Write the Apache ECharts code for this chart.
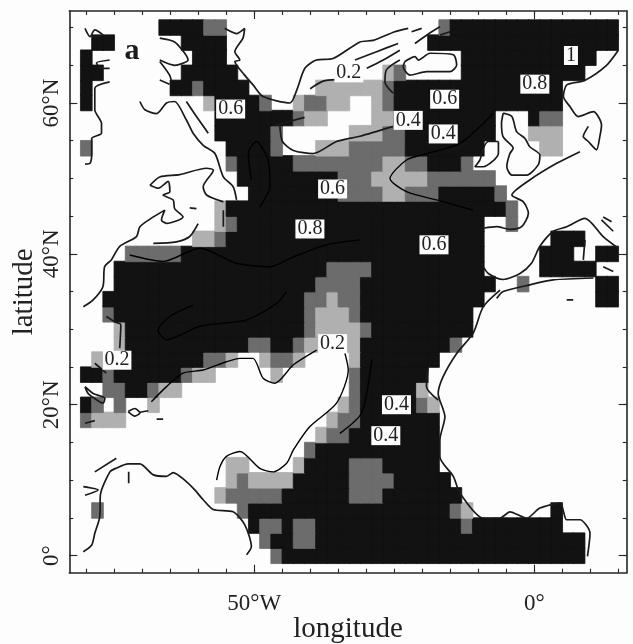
<!DOCTYPE html>
<html><head><meta charset="utf-8">
<style>html,body{margin:0;padding:0;background:#fdfdfd}#c{width:633px;height:644px}</style>
<script src="https://cdn.jsdelivr.net/npm/echarts@6/dist/echarts.min.js"></script>
</head><body><div id="c"></div>
<script>
const FONT = '"Liberation Serif","DejaVu Serif",serif';
const L = 1, D = 2, K = 3;
const levelColors = {1: '#b0b0b0', 2: '#6c6c6c', 3: '#121212'};
const lons = []; for (let v = -80; v <= 14; v += 2) lons.push(v);
const lats = []; for (let v = 0; v <= 70; v += 2) lats.push(v);

// each row: latitude -> runs of [fromLon, toLon, level]
const cellRuns = {
70: [[-66,-60,K],[-58,-56,D],[-16,-16,D],[-14,14,K]],
68: [[-78,-76,K],[-62,-56,K],[-18,14,K]],
66: [[-80,-80,K],[-60,-56,K],[-12,10,K]],
64: [[-80,-78,K],[-62,-54,K],[-26,-26,L],[-24,-24,D],[-12,8,K]],
62: [[-80,-80,K],[-64,-62,K],[-60,-60,D],[-58,-52,K],[-38,-28,L],[-26,-26,D],[-24,4,K]],
60: [[-80,-80,K],[-58,-58,L],[-56,-50,K],[-48,-48,D],[-42,-42,L],[-40,-38,D],[-36,-34,L],[-28,-28,L],[-26,-26,D],[-24,4,K]],
58: [[-56,-44,K],[-42,-42,D],[-40,-38,L],[-28,-26,L],[-24,-8,K],[0,0,K],[2,4,D]],
56: [[-56,-48,K],[-46,-46,D],[-32,-28,L],[-26,-24,D],[-22,-8,K],[0,4,L]],
54: [[-80,-80,D],[-54,-48,K],[-46,-46,D],[-38,-34,L],[-32,-24,D],[-22,-10,K],[2,4,L]],
52: [[-54,-54,D],[-52,-44,K],[-42,-28,D],[-26,-24,L],[-22,-20,D],[-18,-14,K],[-12,-12,D]],
50: [[-52,-36,K],[-34,-30,D],[-28,-20,L],[-18,-8,D]],
48: [[-50,-36,K],[-34,-28,D],[-26,-24,L],[-22,-18,D],[-16,-8,K],[-6,-6,D]],
46: [[-56,-56,L],[-54,-6,K],[-4,-4,D]],
44: [[-56,-56,L],[-54,-54,D],[-52,-10,K],[-4,-4,D]],
42: [[-60,-58,L],[-56,-56,D],[-54,-10,K],[4,8,K]],
40: [[-72,-64,D],[-62,-10,K],[2,6,K],[12,14,K]],
38: [[-74,-38,K],[-36,-30,D],[-28,-10,K],[2,10,K]],
36: [[-74,-40,K],[-38,-32,D],[-30,-8,K],[-2,-2,D],[12,14,K]],
34: [[-76,-42,K],[-40,-38,D],[-36,-36,L],[-34,-32,D],[-30,-10,K],[12,14,K]],
32: [[-76,-76,D],[-74,-42,K],[-40,-40,D],[-38,-34,L],[-32,-32,D],[-30,-12,K]],
30: [[-74,-74,L],[-72,-42,K],[-40,-40,D],[-38,-32,L],[-30,-30,D],[-28,-12,K]],
28: [[-74,-74,L],[-72,-52,K],[-50,-48,D],[-46,-44,K],[-42,-42,D],[-40,-32,L],[-30,-16,K],[-14,-14,D]],
26: [[-78,-78,L],[-76,-60,K],[-58,-56,D],[-54,-54,L],[-48,-48,L],[-46,-44,D],[-42,-42,L],[-32,-32,L],[-30,-18,K]],
24: [[-80,-78,K],[-76,-76,D],[-74,-64,K],[-62,-62,D],[-60,-58,L],[-46,-46,L],[-32,-32,D],[-30,-20,K]],
22: [[-76,-74,D],[-72,-70,K],[-68,-68,D],[-66,-64,L],[-32,-32,D],[-30,-22,K],[-20,-20,L]],
20: [[-80,-80,K],[-78,-78,D],[-74,-74,D],[-68,-68,L],[-34,-34,L],[-32,-32,D],[-30,-22,K],[-20,-20,D],[-18,-18,L]],
18: [[-80,-80,D],[-78,-74,L],[-36,-36,L],[-34,-32,D],[-30,-18,K]],
16: [[-38,-38,L],[-36,-34,D],[-32,-18,K]],
14: [[-40,-40,D],[-38,-18,K]],
12: [[-54,-52,L],[-42,-42,L],[-40,-34,K],[-32,-28,D],[-26,-18,K]],
10: [[-54,-54,L],[-52,-52,D],[-50,-44,L],[-42,-34,K],[-32,-26,D],[-24,-16,K]],
8: [[-56,-56,L],[-54,-46,D],[-44,-34,K],[-32,-28,D],[-26,-14,K]],
6: [[-78,-78,D],[-52,-52,D],[-50,-16,K],[-14,-14,D],[-12,-12,L],[4,4,K]],
4: [[-50,-50,K],[-48,-46,D],[-44,-44,K],[-42,-40,D],[-38,-14,K],[-12,-12,D],[-10,4,K]],
2: [[-48,-48,D],[-46,-44,K],[-42,-40,D],[-38,8,K]],
0: [[-46,-46,D],[-44,8,K]]
};

const coastlines = [
[[-80.2,69.9],[-79.3,68.8],[-78.45,69.7],[-77,69],[-78.75,68.8]],
[[-75.8,62.8],[-78.45,61.95],[-78.45,59.1],[-77.25,57.3],[-77.25,56],[-79,55.3],[-79,53.3],[-79.3,52],[-80.2,51.9]],
[[-75.8,65.7],[-78.15,65.3],[-77.26,64.6],[-75.8,64.6]],
[[-66.85,68.6],[-64.2,68.1],[-62.4,66.6],[-61.8,65.7],[-64.2,65],[-66.85,65.7]],
[[-66.85,65.5],[-65.1,63.7],[-64.75,62.8]],
[[-66.85,63.05],[-65.1,62.5]],
[[-70.4,60.2],[-69.5,59.1],[-67.4,58.6],[-65.65,60],[-64.2,60.2],[-62.1,57.75],[-60.9,56],[-59.1,54.4],[-57,53.3],[-55.5,50.2],[-53.75,48.9],[-53.15,47.15]],
[[-62.1,60.2],[-60.3,58.2],[-58.2,56]],
[[-68.6,49.1],[-66.85,50.2],[-63.3,50.5],[-58.5,51.35],[-57.3,51.1],[-59.1,48.9],[-58.5,47.8],[-55.5,46.9]],
[[-68.6,49.1],[-67.1,48.7],[-65.35,49.6],[-65.05,48.25],[-66.25,47.8],[-64.45,47.15],[-64.2,46],[-62.7,44.9],[-65.65,44.05],[-66.55,44.5],[-65.95,45.8],[-68,44.9],[-70.4,43.6],[-71,42.3],[-74,41],[-75.5,39.2],[-76.7,38.3],[-77,35.65],[-78.75,33.9],[-80.5,33]],
[[-76.4,31.7],[-74.9,31],[-73.8,30.6],[-74,27.5]],
[[-78.45,25.5],[-76.4,24.2]],
[[-60,44],[-61.5,42.3],[-63.9,41.6],[-68,41.4]],
[[-61.5,46.1],[-60.3,46]],
[[-55.5,45.8],[-55.5,43.6]],
[[-55.25,69.9],[-53.15,69.2],[-51.7,69.9],[-52,68.6],[-53.45,66.8],[-52.55,65.7],[-53.45,65.5],[-51.7,63.7],[-50.2,62.4],[-48.4,60.85],[-43.6,60],[-42.4,61.7],[-40.95,64.6],[-38.9,65.7],[-35.9,65.9],[-31.1,68.1],[-28.75,68.3],[-24.9,69.45],[-22.5,69.9]],
[[-21.9,69.45],[-20.1,69.9]],
[[-21.3,67.9],[-18.9,69.15],[-16.85,70.1]],
[[-16.85,69],[-15.05,69.45]],
[[-32,65.7],[-28.15,66.8],[-24.3,67.9]],
[[-40,61.9],[-37.7,62.9],[-35.3,63.1]],
[[-29.9,64.6],[-26.95,65.7],[-24,67]],
[[-45.4,56.9],[-44.95,54.9],[-43,53.7],[-39.45,53.3],[-35.3,54.9],[-31.1,55.6],[-25.2,56.9]],
[[-46,57.1],[-41,58.1]],
[[-23.1,65.5],[-21.3,66.15],[-20.7,65.7],[-18.6,66.6],[-14.45,66.4],[-13.85,65.05],[-15.05,64.15],[-19.2,64.15],[-22.2,63.7],[-23.4,64.8],[-23.1,65.5]],
[[-24,65.7],[-26.4,64.4],[-26.65,62.8],[-25.2,61.3]],
[[-5.55,58.65],[-4,58.2],[-3.15,56.2],[-1.65,55.3],[-0.8,54.2],[1,53.1],[0.7,51.8],[-1.35,50.45],[-4,50.45],[-4.9,51.55],[-4.35,53.3],[-3.75,54],[-5.55,55.5],[-5.85,57.3],[-5.55,58.65]],
[[-6.4,54.9],[-8.2,54.9],[-9.1,54],[-9.7,52.45],[-10.6,51.55],[-9.1,51.55],[-6.4,53.35],[-6.4,54.9]],
[[15,67],[12.9,65],[9,63],[5.8,62.4],[5.2,60.85],[6.4,59.5],[7.85,58.2],[10.55,58.85],[12,57.1],[11.75,55.75],[11.1,53.8],[9.65,54.9],[8.75,55.55],[9.65,56.9]],
[[8.15,53.55],[4,52],[-0.8,49.8],[-4,47.8],[-1.95,46.9],[-1.05,45.4],[-2.25,43.6],[-4.35,43.25],[-6.7,43.6],[-9.1,43.4]],
[[-9.1,38.3],[-8.2,37.4],[-5.55,36.6],[-2.55,37.4],[-0.5,38.75],[1,41],[3.4,43],[5.8,43.6],[9.05,44.7],[12.3,42.3],[15,40.75]],
[[12.3,44.9],[13.8,44.25]],
[[12,44.5],[14.1,43]],
[[9.05,41.85],[8.75,39.2]],
[[-6.7,34.1],[-5.55,35],[-0.8,35.9],[3.4,36.55],[10.55,36.8]],
[[12.3,38.3],[14.1,37.65]],
[[5.8,33.9],[6.95,33.9]],
[[-6.1,35.2],[-9.1,33],[-10.9,29.5],[-13.85,26.8],[-16.25,23.75],[-17.15,21.5],[-15.95,18.4],[-16.85,15.3],[-16.85,13.1],[-14.45,10.5],[-13.25,8.25],[-9.1,4.95],[-6.15,4.95],[-4.35,5.8],[-1.35,4.95],[1,6.3],[4.6,6.95],[5.8,4.75],[8.15,4.75],[9.95,2.95],[9.5,-0.1]],
[[-18.95,24.85],[-19.25,22.4],[-17.15,20.6]],
[[-80.5,0.5],[-79,1.4],[-78.45,2.95],[-77.55,5.2],[-77.45,8.05],[-75.75,11.1],[-74.6,11.6],[-72.5,12.15],[-70.4,12.15],[-68,10.7],[-65.65,10.5],[-64.45,11],[-62.4,10],[-60.6,8.7],[-59.1,7.4],[-57.3,6.1],[-53.75,5.8],[-51.65,4.05],[-50.5,1.2],[-51.35,0.1]],
[[-78.45,11.1],[-74.6,12.9]],
[[-72.4,11.1],[-72.4,9.6]],
[[-80.5,9.15],[-77.85,8.7],[-80.2,8]],
[[-80.2,22.4],[-78.75,21.5],[-76.65,20.85],[-76.95,20.2],[-78.15,20.65],[-79.65,21.5],[-80.2,22.4]],
[[-72.5,19.1],[-71.3,19.5],[-70.4,18.9],[-71.3,18.5],[-72.5,19.1]],
[[-70.4,19],[-68.9,19.2]],
[[-80.2,17.55],[-78.45,17.9]],
[[-67.4,18.1],[-66.25,18.1]]
];
const contours = [
[[-68.35,20.4],[-65.65,22.4],[-62.7,24.2],[-59.1,24.6],[-54.95,25.7],[-52.55,26.15],[-50.2,26.15],[-48.4,23.5],[-46.3,22.85],[-43,25.3],[-38.85,27.25]],
[[-33.8,26.8],[-33.2,24.6],[-35.3,20.2],[-40.05,17.1],[-43,14],[-44.2,12.25],[-46.6,11.1],[-49,11.55],[-52.55,13.8],[-54.95,13.15],[-56.1,11.8],[-56.7,10]],
[[-7.3,58.65],[-13.25,54.65],[-19.2,53.3],[-22.8,52.45],[-25.75,50],[-22.8,48.25],[-17.45,47.15],[-10.9,45.8]],
[[-72.2,39.85],[-66.25,39],[-59.7,40.75],[-53.15,38.75],[-47.2,38.3],[-43,39.6],[-37.1,41.2],[-31.1,41.85]],
[[-50.5,49.8],[-51.05,53.35],[-49.6,54.9],[-47.5,52.45],[-47.2,48.9],[-49,46.25]],
[[-60.9,33.2],[-65.05,31.7],[-67.15,29.9],[-65.65,28.6],[-59.7,30.4],[-51.35,31.25],[-46,33.45],[-44.2,35]],
[[-29,25.95],[-30.85,18.9],[-34.7,16.2]]
];
const contourLabels = [
[-33.1,64,'0.2'],[6.55,66.3,'1'],[0.1,62.5,'0.8'],[-16,60.5,'0.6'],[-54.2,59.2,'0.6'],
[-22.5,57.7,'0.4'],[-16.25,55.9,'0.4'],[-36,48.6,'0.6'],[-40.05,43.3,'0.8'],[-17.9,41.2,'0.6'],
[-74.5,25.9,'0.2'],[-36,28.1,'0.2'],[-24.6,20,'0.4'],[-26.5,15.9,'0.4']
];
const panelLabel = [[-71.8,66.8,'a']];
const xTickValues = []; for (let v = -80; v <= 15; v += 5) xTickValues.push(v);
const yTickValues = []; for (let v = 0; v <= 70; v += 5) yTickValues.push(v);
const xLabelValues = [-50, 0];
const yLabelValues = [0, 20, 40, 60];

const cells = [];
Object.keys(cellRuns).forEach(lat => cellRuns[lat].forEach(([a, b, lev]) => {
  for (let lon = a; lon <= b; lon += 2) cells.push({
    value: [lons.indexOf(lon), lats.indexOf(+lat), lev],
    itemStyle: {borderColor: levelColors[lev], borderWidth: 0.8}
  });
}));

const lineColor = '#262626';
const frameX = {min: -83, max: 16.5}, frameY = {min: -2.27, max: 72.2};
const axisCommon = {
  gridIndex: 1, type: 'value', splitLine: {show: false},
  axisLine: {show: true, onZero: false, lineStyle: {color: lineColor, width: 1.6}},
};
const tickStyle = (vals, len) => ({show: true, inside: true, length: len, customValues: vals, lineStyle: {color: lineColor, width: 1.1}});
const majorAxis = (range, pos, vals) => Object.assign({}, axisCommon, range, {position: pos, axisLine: {show: false, onZero: false},
  axisTick: tickStyle(vals, 8), axisLabel: {show: false}});

const series = [{
  type: 'heatmap', xAxisIndex: 0, yAxisIndex: 0, data: cells, z: 1, progressive: 0,
  emphasis: {disabled: true}
}];
coastlines.forEach(p => series.push({type: 'line', xAxisIndex: 1, yAxisIndex: 1, data: p, symbol: 'none', smooth: 0.25, z: 3, silent: true,
  lineStyle: {color: '#1a1a1a', width: 1.7}}));
contours.forEach(p => series.push({type: 'line', xAxisIndex: 1, yAxisIndex: 1, data: p, symbol: 'none', smooth: 0.25, z: 3, silent: true,
  lineStyle: {color: '#000', width: 1.4}}));
series.push({
  type: 'scatter', xAxisIndex: 1, yAxisIndex: 1, data: contourLabels, symbolSize: 1, z: 5, silent: true,
  itemStyle: {color: 'rgba(0,0,0,0)', opacity: 1},
  label: {show: true, position: 'inside', formatter: p => p.value[2], fontFamily: FONT, fontSize: 20, color: '#222',
    backgroundColor: '#fdfdfd', padding: [1, 2, 0, 2], lineHeight: 18}
});
series.push({
  type: 'scatter', xAxisIndex: 1, yAxisIndex: 1, data: panelLabel, symbolSize: 1, z: 5, silent: true,
  itemStyle: {color: 'rgba(0,0,0,0)', opacity: 1},
  label: {show: true, position: 'inside', formatter: p => p.value[2], fontFamily: FONT, fontSize: 30, fontWeight: 'bold', color: '#1c1c1c'}
});

const option = {
  animation: false,
  backgroundColor: '#fdfdfd',
  visualMap: {show: false, type: 'piecewise', seriesIndex: 0, dimension: 2,
    pieces: [1, 2, 3].map(v => ({value: v, color: levelColors[v]}))},
  grid: [
    {left: 80.7, top: 20, width: 537.6, height: 543.3, outerBoundsMode: 'none'},
    {left: 69.3, right: 6.3, top: 11, bottom: 71.3, outerBoundsMode: 'none'}
  ],
  xAxis: [
    {gridIndex: 0, type: 'category', data: lons, show: false},
    Object.assign({}, axisCommon, frameX, {position: 'bottom',
      name: 'longitude', nameLocation: 'middle', nameGap: 42, nameMoveOverlap: false,
      nameTextStyle: {fontFamily: FONT, fontSize: 29, color: '#222'},
      axisTick: tickStyle(xTickValues, 4),
      axisLabel: {show: true, customValues: xLabelValues, margin: 20, fontFamily: FONT, fontSize: 23, color: '#222',
        formatter: v => v === 0 ? '0°' : Math.abs(v) + '°W'}}),
    Object.assign({}, axisCommon, frameX, {position: 'top', axisTick: tickStyle(xTickValues, 4), axisLabel: {show: false}}),
    majorAxis(frameX, 'bottom', xLabelValues),
    majorAxis(frameX, 'top', xLabelValues)
  ],
  yAxis: [
    {gridIndex: 0, type: 'category', data: lats, show: false},
    Object.assign({}, axisCommon, frameY, {position: 'left',
      name: 'latitude', nameLocation: 'middle', nameGap: 30, nameRotate: 90, nameMoveOverlap: false,
      nameTextStyle: {fontFamily: FONT, fontSize: 29, color: '#222'},
      axisTick: tickStyle(yTickValues, 4),
      axisLabel: {show: true, customValues: yLabelValues, rotate: 90, margin: 6, fontFamily: FONT, fontSize: 23, color: '#222',
        verticalAlign: 'bottom', align: 'center',
        formatter: v => v === 0 ? '0°' : v + '°N'}}),
    Object.assign({}, axisCommon, frameY, {position: 'right', axisTick: tickStyle(yTickValues, 4), axisLabel: {show: false}}),
    majorAxis(frameY, 'left', yLabelValues),
    majorAxis(frameY, 'right', yLabelValues)
  ],
  series
};
echarts.init(document.getElementById('c'), null, {renderer: 'canvas'}).setOption(option);
</script></body></html>
